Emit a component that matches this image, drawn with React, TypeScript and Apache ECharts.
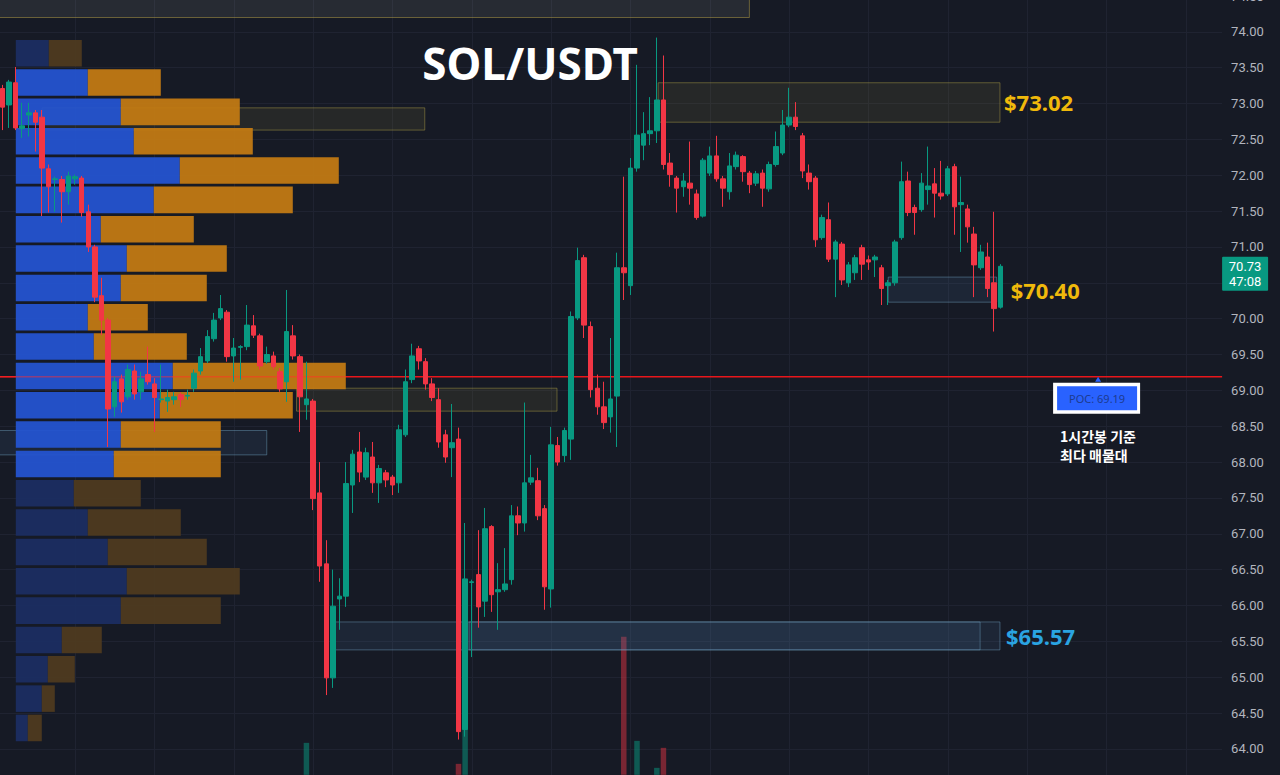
import { useEffect, useRef } from "react";
import * as echarts from "echarts";

const BG = "#161a25";
const UP = "#089981";
const DOWN = "#f23645";
const GRID_COLOR = "#1f2331";

// price axis
const PRICE_MIN = 63.5;
const PRICE_MAX = 74.5;
const PRICE_STEP = 0.5;

// hourly candle slots (right part kept empty as in the screenshot)
const SLOT_COUNT = 185;
const categories = Array.from({ length: SLOT_COUNT }, (_, i) => `${i + 1}`);

// candles: [open, close, low, high]
const candles: number[][] = [
  [73.21, 72.95, 72.63, 73.26], [72.98, 73.30, 72.66, 73.33], [73.29, 72.66, 72.63, 73.51], [72.65, 72.69, 72.52, 73.01],
  [72.84, 72.87, 72.54, 73.01], [72.87, 72.74, 72.33, 72.91], [72.81, 72.10, 71.43, 72.91], [72.09, 71.84, 71.48, 72.15],
  [71.94, 71.95, 71.49, 71.98], [71.94, 71.77, 71.34, 71.99], [71.77, 71.99, 71.59, 72.05], [71.95, 71.98, 71.87, 72.01],
  [71.96, 71.48, 71.42, 71.99], [71.49, 71.00, 70.93, 71.59], [71.00, 70.30, 70.23, 71.03], [70.32, 69.98, 69.77, 70.57],
  [69.98, 68.74, 68.21, 70.01], [68.77, 69.12, 68.63, 69.19], [69.16, 68.84, 68.69, 69.22], [68.91, 69.29, 68.87, 69.36],
  [69.27, 68.95, 68.87, 69.36], [68.98, 69.16, 68.87, 69.26], [69.22, 69.12, 69.08, 69.61], [69.09, 68.90, 68.42, 69.17],
  [68.87, 68.88, 68.83, 69.36], [68.85, 68.90, 68.70, 69.01], [68.87, 68.91, 68.80, 68.98], [68.94, 68.87, 68.77, 68.97],
  [68.92, 68.93, 68.87, 69.01], [69.03, 69.24, 68.98, 69.29], [69.27, 69.47, 69.22, 69.59], [69.41, 69.75, 69.38, 69.84],
  [69.72, 69.98, 69.68, 70.08], [70.01, 70.14, 69.98, 70.33], [70.09, 69.47, 69.40, 70.12], [69.48, 69.59, 69.12, 69.73],
  [69.60, 69.61, 69.15, 69.63], [69.61, 69.91, 69.56, 70.19], [69.90, 69.77, 69.73, 70.05], [69.76, 69.34, 69.29, 69.79],
  [69.40, 69.50, 69.37, 69.61], [69.48, 69.33, 69.29, 69.54], [69.26, 69.02, 68.98, 69.31], [69.12, 69.82, 68.84, 70.40],
  [69.76, 69.48, 69.43, 69.91], [69.47, 68.91, 68.42, 69.50], [68.80, 68.88, 68.59, 69.40], [68.85, 67.49, 67.33, 68.88],
  [67.57, 66.55, 66.33, 68.00], [66.58, 64.99, 64.75, 66.91], [64.99, 65.99, 64.85, 66.50], [66.09, 66.13, 65.66, 66.38],
  [66.13, 67.70, 65.98, 68.00], [67.68, 68.11, 67.29, 68.17], [68.14, 67.86, 67.72, 68.42], [67.79, 68.13, 67.75, 68.20],
  [68.07, 67.71, 67.57, 68.28], [67.71, 67.91, 67.43, 67.96], [67.85, 67.75, 67.65, 67.89], [67.79, 67.68, 67.54, 67.82],
  [67.71, 68.45, 67.57, 68.52], [68.38, 69.12, 68.35, 69.29], [69.15, 69.48, 69.10, 69.65], [69.58, 69.41, 69.29, 69.62],
  [69.40, 69.09, 69.01, 69.45], [69.09, 68.90, 68.85, 69.17], [68.87, 68.28, 68.20, 69.03], [68.38, 68.07, 67.99, 68.45],
  [68.20, 68.27, 67.79, 68.81], [68.32, 64.24, 64.13, 68.48], [64.27, 66.37, 64.17, 67.15], [66.32, 66.33, 65.28, 66.36],
  [66.43, 65.98, 65.69, 67.05], [66.06, 67.07, 65.84, 67.36], [67.10, 66.15, 65.91, 67.12], [66.19, 66.22, 65.66, 66.59],
  [66.22, 66.30, 66.19, 66.80], [66.36, 67.25, 66.29, 67.40], [67.25, 67.15, 66.98, 67.38], [67.15, 67.71, 67.03, 68.83],
  [67.72, 67.78, 67.68, 68.10], [67.74, 67.25, 67.19, 67.92], [67.35, 66.26, 65.94, 67.40], [66.23, 68.24, 65.97, 68.49],
  [68.23, 68.00, 67.95, 68.35], [68.09, 68.44, 68.00, 68.48], [68.32, 70.03, 68.03, 70.10], [70.01, 70.81, 69.98, 70.99],
  [70.85, 69.91, 69.73, 70.89], [69.89, 69.01, 68.90, 69.96], [69.03, 68.77, 68.66, 69.22], [68.77, 68.55, 68.46, 69.12],
  [68.63, 68.88, 68.41, 69.73], [68.92, 70.71, 68.21, 70.92], [70.71, 70.64, 70.26, 71.98], [70.46, 72.10, 70.33, 72.24],
  [72.10, 72.56, 72.05, 73.54], [72.42, 72.58, 72.21, 72.88], [72.58, 72.62, 72.42, 73.09], [72.62, 73.05, 72.45, 73.92],
  [73.05, 72.15, 72.08, 73.67], [72.17, 72.01, 71.84, 72.31], [71.96, 71.82, 71.48, 71.99], [71.84, 71.92, 71.70, 72.03],
  [71.89, 71.82, 71.59, 72.47], [71.74, 71.41, 71.38, 71.80], [71.43, 72.21, 71.41, 72.24], [72.03, 72.27, 71.99, 72.40],
  [72.27, 71.95, 71.91, 72.55], [71.95, 71.82, 71.56, 71.99], [71.77, 72.13, 71.66, 72.31], [72.12, 72.28, 72.08, 72.33],
  [72.26, 72.05, 71.91, 72.28], [72.03, 71.87, 71.75, 72.06], [71.89, 72.02, 71.85, 72.06], [72.03, 71.82, 71.56, 72.08],
  [71.81, 72.15, 71.77, 72.19], [72.15, 72.40, 72.12, 72.61], [72.31, 72.70, 72.28, 72.91], [72.70, 72.81, 72.67, 73.22],
  [72.81, 72.68, 72.63, 73.02], [72.55, 72.06, 71.96, 72.59], [72.03, 71.91, 71.80, 72.15], [71.96, 71.10, 71.00, 71.99],
  [71.13, 71.41, 71.10, 71.45], [71.38, 70.83, 70.79, 71.62], [70.83, 71.07, 70.30, 71.10], [71.04, 70.54, 70.47, 71.07],
  [70.50, 70.75, 70.44, 70.79], [70.64, 70.85, 70.54, 70.89], [70.99, 70.76, 70.54, 71.03], [70.82, 70.79, 70.68, 70.88],
  [70.82, 70.86, 70.58, 70.89], [70.71, 70.42, 70.19, 70.75], [70.46, 70.50, 70.19, 70.54], [70.50, 71.07, 70.46, 71.10],
  [71.13, 71.91, 71.10, 72.19], [71.92, 71.48, 71.43, 72.05], [71.55, 71.48, 71.17, 71.59], [71.52, 71.89, 71.49, 72.03],
  [71.80, 71.85, 71.59, 72.40], [71.88, 71.75, 71.41, 72.10], [71.75, 71.71, 71.66, 72.20], [71.74, 72.09, 71.71, 72.13],
  [72.12, 71.56, 71.17, 72.16], [71.59, 71.62, 70.93, 71.98], [71.53, 71.28, 71.06, 71.59], [71.18, 70.75, 70.30, 71.28],
  [70.71, 70.93, 70.68, 71.03], [70.86, 70.42, 70.30, 71.06], [70.50, 70.14, 69.82, 71.49], [70.16, 70.73, 70.14, 70.76],
];

// volume pane: only the tallest bars reach into the visible area
const volumeIndex = [46, 69, 70, 94, 96, 99, 100];
const volumeValue = [32, 11, 47, 138, 34, 7, 27];

// volume profile (rows from top to bottom)
const profileHigh = 73.89;
const profileLow = 64.07;
const profileBuy = [33, 72, 105, 118, 164, 138, 85, 111, 105, 72, 78, 157, 144, 105, 98, 58, 72, 92, 111, 105, 46, 32, 26, 12];
const profileSell = [33, 73, 119, 119, 159, 139, 93, 100, 86, 60, 93, 173, 133, 100, 107, 67, 93, 99, 113, 100, 40, 27, 13, 14];
const valueAreaRows = [1, 14];
const pocPrice = 69.19;
const pocRow = 11;

// zones (x in candle-slot units)
const zoneStart = [-1, 6.0, 99.2, 44.5, -1, 134.0, 50.4, 70.6];
const zoneEnd = [113.0, 63.9, 150.9, 83.9, 40.0, 150.4, 147.9, 150.9];
const zoneTop = [74.6, 72.94, 73.29, 69.03, 68.44, 70.58, 65.77, 65.77];
const zoneBottom = [74.2, 72.63, 72.74, 68.71, 68.10, 70.23, 65.38, 65.38];
const zoneKind = [0, 1, 1, 1, 2, 2, 2, 2]; // 0 gray, 1 supply, 2 demand

const labelZone = [2, 5, 7];
const labelText = ["$73.02", "$70.40", "$65.57"];
const labelColor = ["#f0b90b", "#f0b90b", "#2aa4e2"];
const labelOffset = [4, 14, 6];

const lastPrice = 70.73;
const countdown = "47:08";

const gridCols: number[] = [];
for (let c = 11; c < SLOT_COUNT; c += 12) gridCols.push(c);

const ZONE_FILL = ["rgba(150,150,140,0.14)", "rgba(150,140,60,0.13)", "rgba(80,120,170,0.13)"];
const ZONE_STROKE = ["rgba(170,150,70,0.55)", "rgba(180,165,70,0.45)", "rgba(110,160,190,0.45)"];

// the chart canvas is shifted so the price grid lines land on the screenshot's pixels
const DX = 1.1;
const DY = 3.85;
const CHART_W = 1282.2;
const CHART_H = 788.7;
const MAIN_W = 1223.1;

export default function App() {
  const ref = useRef<HTMLDivElement>(null);

  useEffect(() => {
    document.body.style.margin = "0";
    document.body.style.overflow = "hidden";
    document.documentElement.style.overflow = "hidden";
    document.body.style.background = BG;
    const chart = echarts.init(ref.current!, null, { renderer: "svg" });

    const volumes: (number | null)[] = candles.map(() => null);
    volumeIndex.forEach((idx, k) => (volumes[idx] = volumeValue[k]));

    const rowStep = (profileHigh - profileLow) / profileBuy.length;

    chart.setOption({
      animation: false,
      backgroundColor: BG,
      grid: [
        { left: 0, top: 0, width: MAIN_W, height: CHART_H, outerBoundsMode: "none", containLabel: false },
        { left: 15.7 + DX, top: 0, width: 400, height: CHART_H, outerBoundsMode: "none", containLabel: false },
        { left: 0, top: 600 + DY, width: MAIN_W, height: 175, outerBoundsMode: "none", containLabel: false },
      ],
      xAxis: [
        { type: "category", data: categories, gridIndex: 0, show: false },
        { type: "value", gridIndex: 0, min: -0.5, max: SLOT_COUNT - 0.5, show: false },
        { type: "value", gridIndex: 1, min: 0, max: 400, show: false },
        { type: "category", data: categories, gridIndex: 2, show: false },
      ],
      yAxis: [
        {
          type: "value",
          gridIndex: 0,
          position: "right",
          min: PRICE_MIN,
          max: PRICE_MAX,
          interval: PRICE_STEP,
          axisLine: { show: false },
          axisTick: { show: false },
          splitLine: { show: true, lineStyle: { color: GRID_COLOR, width: 1 } },
          axisLabel: {
            color: "#b2b5be",
            fontSize: 13,
            fontFamily: "Roboto",
            margin: 9,
            showMinLabel: false,
            formatter: (v: number) => v.toFixed(2),
          },
        },
        { type: "value", gridIndex: 1, min: PRICE_MIN, max: PRICE_MAX, show: false },
        { type: "value", gridIndex: 2, min: 0, max: 175, show: false },
      ],
      series: [
        {
          name: "vgrid",
          type: "custom",
          xAxisIndex: 1,
          yAxisIndex: 0,
          z: 0,
          silent: true,
          data: gridCols.map((c) => [c, 70]),
          renderItem: (params: any, api: any) => {
            const x = Math.round(api.coord([api.value(0), 70])[0]) + 0.5;
            return {
              type: "line",
              shape: { x1: x, y1: 0, x2: x, y2: CHART_H },
              style: { stroke: GRID_COLOR, lineWidth: 1 },
            };
          },
        },
        {
          name: "volume",
          type: "bar",
          xAxisIndex: 3,
          yAxisIndex: 2,
          z: 1,
          barWidth: 5.5,
          silent: true,
          data: volumes.map((v, i) =>
            v == null
              ? null
              : {
                  value: v,
                  itemStyle: {
                    color: candles[i][1] >= candles[i][0] ? "rgba(8,153,129,0.5)" : "rgba(242,54,69,0.45)",
                  },
                }
          ),
        },
        {
          name: "zones",
          type: "custom",
          xAxisIndex: 1,
          yAxisIndex: 0,
          z: 2,
          silent: true,
          data: zoneStart.map((s, i) => [s, zoneEnd[i], zoneTop[i], zoneBottom[i], zoneKind[i]]),
          renderItem: (params: any, api: any) => {
            const p0 = api.coord([api.value(0), api.value(2)]);
            const p1 = api.coord([api.value(1), api.value(3)]);
            const k = api.value(4);
            return {
              type: "rect",
              shape: { x: p0[0], y: p0[1], width: p1[0] - p0[0], height: p1[1] - p0[1] },
              style: { fill: ZONE_FILL[k], stroke: ZONE_STROKE[k], lineWidth: 1 },
            };
          },
        },
        {
          name: "pocLine",
          type: "custom",
          xAxisIndex: 1,
          yAxisIndex: 0,
          z: 3,
          silent: true,
          data: [[0, pocPrice]],
          renderItem: (params: any, api: any) => {
            const y = api.coord([0, api.value(1)])[1];
            const cs = params.coordSys;
            return {
              type: "line",
              shape: { x1: 0, y1: y, x2: cs.x + cs.width, y2: y },
              style: { stroke: "#e8161b", lineWidth: 1.5 },
            };
          },
        },
        {
          name: "profile",
          type: "custom",
          xAxisIndex: 2,
          yAxisIndex: 1,
          z: 4,
          silent: true,
          data: profileBuy.map((b, r) => [r, b, profileSell[r]]),
          renderItem: (params: any, api: any) => {
            const r = api.value(0);
            const buy = api.value(1);
            const sell = api.value(2);
            const hi = profileHigh - r * rowStep;
            const lo = hi - rowStep;
            const a = api.coord([0, hi]);
            const b = api.coord([buy, lo]);
            const c = api.coord([buy + sell, lo]);
            const inVA = r >= valueAreaRows[0] && r <= valueAreaRows[1];
            const y = a[1] + 0.2;
            const h = b[1] - a[1] - 2.8;
            return {
              type: "group",
              children: [
                {
                  type: "rect",
                  shape: { x: a[0], y, width: b[0] - a[0], height: h },
                  style: { fill: inVA ? "#2454d0" : "#1c2e62", opacity: 0.94 },
                },
                {
                  type: "rect",
                  shape: { x: b[0], y, width: c[0] - b[0], height: h },
                  style: { fill: inVA ? "#c27a13" : "#4f3a1f", opacity: 0.94 },
                },
              ],
            };
          },
        },
        {
          name: "pocOverlay",
          type: "custom",
          xAxisIndex: 2,
          yAxisIndex: 1,
          z: 5,
          silent: true,
          data: [[profileBuy[pocRow] + profileSell[pocRow], pocPrice]],
          renderItem: (params: any, api: any) => {
            const p0 = api.coord([0, api.value(1)]);
            const p1 = api.coord([api.value(0), api.value(1)]);
            return {
              type: "line",
              shape: { x1: 0, y1: p0[1], x2: p1[0], y2: p1[1] },
              style: { stroke: "rgba(255,40,40,0.45)", lineWidth: 1.5 },
            };
          },
        },
        {
          name: "SOL/USDT",
          type: "candlestick",
          xAxisIndex: 0,
          yAxisIndex: 0,
          z: 6,
          barWidth: 5,
          silent: true,
          data: candles,
          itemStyle: {
            color: UP,
            color0: DOWN,
            borderColor: UP,
            borderColor0: DOWN,
            borderWidth: 1,
          },
        },
      ],
    });

    const py = (p: number) => chart.convertToPixel({ yAxisIndex: 0 }, p) as number;
    const px = (x: number) => chart.convertToPixel({ xAxisIndex: 1 }, x) as number;

    const graphics: any[] = [
      {
        type: "text",
        x: 530 + DX,
        y: 63 + DY,
        z: 100,
        style: {
          text: "SOL/USDT",
          fill: "#ffffff",
          font: "bold 44px 'Noto Sans'",
          textAlign: "center",
          textVerticalAlign: "middle",
        },
      },
    ];

    labelZone.forEach((zi, k) => {
      graphics.push({
        type: "text",
        x: px(zoneEnd[zi]) + labelOffset[k],
        y: py((zoneTop[zi] + zoneBottom[zi]) / 2),
        z: 100,
        style: {
          text: labelText[k],
          fill: labelColor[k],
          font: "bold 22px 'Noto Sans'",
          textAlign: "left",
          textVerticalAlign: "middle",
        },
      });
    });

    const yPoc = py(pocPrice);
    const bx = 1053 + DX;
    graphics.push(
      {
        type: "polygon",
        z: 100,
        shape: { points: [[bx + 42, yPoc + 5], [bx + 48, yPoc + 5], [bx + 45, yPoc]] },
        style: { fill: "#2962ff" },
      },
      {
        type: "rect",
        z: 100,
        shape: { x: bx, y: yPoc + 6, width: 87, height: 31 },
        style: { fill: "#ffffff" },
      },
      {
        type: "rect",
        z: 101,
        shape: { x: bx + 4, y: yPoc + 9.5, width: 80, height: 24 },
        style: { fill: "#2962ff" },
      },
      {
        type: "text",
        x: bx + 44,
        y: yPoc + 21.5,
        z: 102,
        style: {
          text: `POC: ${pocPrice.toFixed(2)}`,
          fill: "#1d3b8f",
          font: "11px 'Noto Sans'",
          textAlign: "center",
          textVerticalAlign: "middle",
        },
      },
      {
        type: "text",
        x: bx + 7,
        y: yPoc + 59,
        z: 100,
        style: {
          text: "1시간봉 기준",
          fill: "#ffffff",
          font: "bold 14px 'Noto Sans CJK KR'",
          textAlign: "left",
          textVerticalAlign: "middle",
        },
      },
      {
        type: "text",
        x: bx + 7,
        y: yPoc + 78,
        z: 100,
        style: {
          text: "최다 매물대",
          fill: "#ffffff",
          font: "bold 14px 'Noto Sans CJK KR'",
          textAlign: "left",
          textVerticalAlign: "middle",
        },
      }
    );

    const yLast = py(lastPrice);
    const gx = MAIN_W;
    graphics.push(
      {
        type: "rect",
        z: 100,
        shape: { x: gx, y: yLast - 9.5, width: 46, height: 34, r: 1 },
        style: { fill: UP },
      },
      {
        type: "text",
        x: gx + 23,
        y: yLast,
        z: 101,
        style: {
          text: lastPrice.toFixed(2),
          fill: "#ffffff",
          font: "13px Roboto",
          textAlign: "center",
          textVerticalAlign: "middle",
        },
      },
      {
        type: "text",
        x: gx + 23,
        y: yLast + 15,
        z: 101,
        style: {
          text: countdown,
          fill: "#ffffff",
          font: "13px Roboto",
          textAlign: "center",
          textVerticalAlign: "middle",
        },
      }
    );

    chart.setOption({ graphic: graphics });

    return () => chart.dispose();
  }, []);

  return (
    <div
      ref={ref}
      style={{
        position: "absolute",
        left: -DX,
        top: -DY,
        width: CHART_W,
        height: CHART_H,
        background: BG,
      }}
    />
  );
}
